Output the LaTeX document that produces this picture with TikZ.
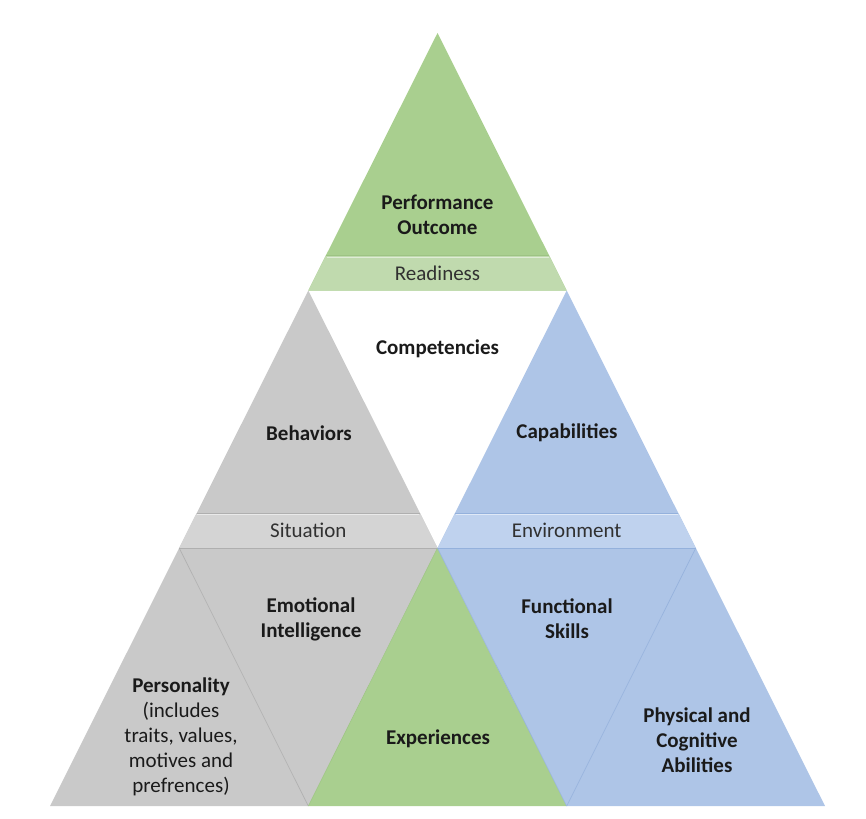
\documentclass[tikz,border=0pt]{standalone}
\usepackage{fontspec}
\setmainfont{Carlito}
\definecolor{grn}{HTML}{A9CF8F}
\definecolor{grnband}{HTML}{C0DAAE}
\definecolor{grnline}{HTML}{9DC383}
\definecolor{gry}{HTML}{C9C9C9}
\definecolor{gryband}{HTML}{D4D4D4}
\definecolor{gryline}{HTML}{AFAFAF}
\definecolor{blu}{HTML}{AEC5E7}
\definecolor{bluband}{HTML}{BFD2EE}
\definecolor{bluline}{HTML}{94B1DC}
\definecolor{txt}{HTML}{1A1A1A}
\tikzset{
  lbl/.style={font=\fontsize{21}{25}\selectfont\bfseries, text=txt, align=center, inner sep=0pt},
  bandlbl/.style={font=\fontsize{21}{25}\selectfont, text=txt!90, align=center, inner sep=0pt},
}
\begin{document}
\begin{tikzpicture}[x=1pt,y=-1pt]
\useasboundingbox (0,0) rectangle (866,818);
% coordinates
\coordinate (A) at (437.5,33);
\coordinate (L1) at (308.3,290.5);
\coordinate (R1) at (566.7,290.5);
\coordinate (P0) at (179.2,548);
\coordinate (P1) at (437.5,548);
\coordinate (P2) at (695.8,548);
\coordinate (B0) at (50,806);
\coordinate (B1) at (308.3,806);
\coordinate (B2) at (566.7,806);
\coordinate (B3) at (825,806);
% top triangle
\fill[grn] (A) -- (L1) -- (R1) -- cycle;
\fill[grnband] (325.8,255.5) -- (549.2,255.5) -- (R1) -- (L1) -- cycle;
\draw[grnline, line width=0.6pt] (325.8,255.5) -- (549.2,255.5);
\draw[white!50!grnband, line width=0.8pt] (326.5,257) -- (548.5,257);
% middle row
\fill[gry] (L1) -- (P0) -- (P1) -- cycle;
\fill[gryband] (196.7,513) -- (420,513) -- (P1) -- (P0) -- cycle;
\draw[gryline, line width=0.6pt] (196.7,513) -- (420,513);
\draw[white!50!gryband, line width=0.8pt] (197.4,514.5) -- (419.3,514.5);
\fill[blu] (R1) -- (P1) -- (P2) -- cycle;
\fill[bluband] (455,513) -- (678.3,513) -- (P2) -- (P1) -- cycle;
\draw[bluline, line width=0.6pt] (455,513) -- (678.3,513);
\draw[white!50!bluband, line width=0.8pt] (455.7,514.5) -- (677.6,514.5);
% bottom row
\fill[gry] (P0) -- (B0) -- (B1) -- cycle;
\fill[gry] (P0) -- (P1) -- (B1) -- cycle;
\fill[grn] (P1) -- (B1) -- (B2) -- cycle;
\fill[blu] (P1) -- (P2) -- (B2) -- cycle;
\fill[blu] (P2) -- (B2) -- (B3) -- cycle;
% edges
\draw[gryline, line width=0.6pt] (P0) -- (P1);
\draw[bluline, line width=0.6pt] (P1) -- (P2);
\draw[gryline, line width=0.6pt] (P0) -- (B1);
\draw[bluline, line width=0.6pt] (P2) -- (B2);
\draw[grnline, line width=0.5pt] (P1) -- (B1);
\draw[bluline, line width=0.5pt] (P1) -- (B2);
% labels
\node[lbl] (perf) at (437.5,215) {Performance\\Outcome};
\node[bandlbl] (ready) at (437.5,273) {Readiness};
\node[lbl] (comp) at (437.5,349) {Competencies};
\node[lbl] (beh) at (309,433) {Behaviors};
\node[lbl] (cap) at (567,433) {Capabilities};
\node[bandlbl] (sit) at (308.3,530.5) {Situation};
\node[bandlbl] (env) at (566.7,530.5) {Environment};
\node[lbl] (emo) at (311,619) {Emotional\\Intelligence};
\node[lbl] (func) at (567,619) {Functional\\Skills};
\node[lbl] (pers) at (181,737) {Personality\\\mdseries(includes\\\mdseries traits, values,\\\mdseries motives and\\\mdseries prefrences)};
\node[lbl] (exp) at (438,739) {Experiences};
\node[lbl] (phys) at (697,740) {Physical and\\Cognitive\\Abilities};
\end{tikzpicture}
\end{document}
